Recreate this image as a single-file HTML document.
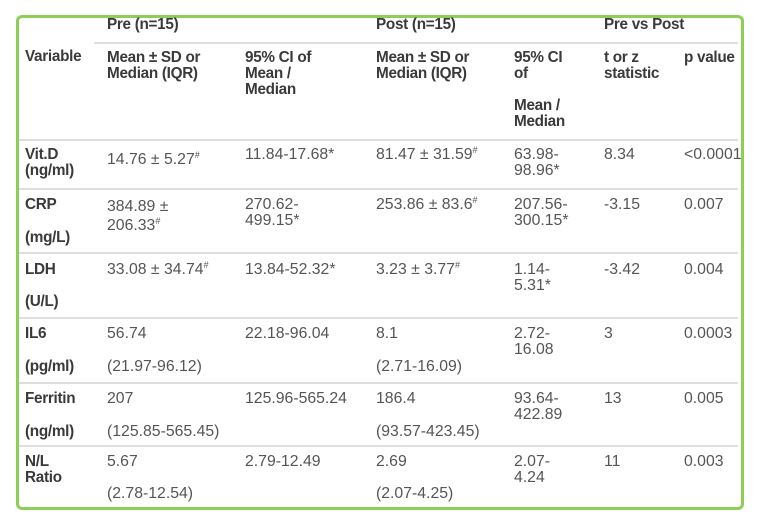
<!DOCTYPE html>
<html><head><meta charset="utf-8"><style>
html,body{margin:0;padding:0;background:#fff;width:759px;height:525px;overflow:hidden;position:relative;font-family:"Liberation Sans",sans-serif;}
.box{position:absolute;left:16px;top:15px;width:722px;height:489px;border:3px solid #8dcf55;border-radius:6px;}
.hl{position:absolute;height:2px;background:#dedede;left:19px;width:719px;}
.t{position:absolute;font-size:15.8px;line-height:16px;color:#555;white-space:nowrap;}
.h{color:#3a3a3a;font-weight:bold;font-size:15.3px;letter-spacing:-0.3px;}
sup{font-size:9px;line-height:0;vertical-align:6px;}
</style></head><body>
<div class="box"></div>
<div class="hl" style="top:42px;left:94px;width:644px"></div>
<div class="hl" style="top:139px"></div>
<div class="hl" style="top:188px"></div>
<div class="hl" style="top:252px"></div>
<div class="hl" style="top:317px"></div>
<div class="hl" style="top:382px"></div>
<div class="hl" style="top:445px"></div>

<div class="t h" style="left:107px;top:17px">Pre (n=15)</div>
<div class="t h" style="left:376px;top:17px">Post (n=15)</div>
<div class="t h" style="left:604px;top:17px">Pre vs Post</div>
<div class="t h" style="left:25px;top:49px">Variable</div>
<div class="t h" style="left:107px;top:50px">Mean ± SD or<br>Median (IQR)</div>
<div class="t h" style="left:245px;top:50px">95% CI of<br>Mean /<br>Median</div>
<div class="t h" style="left:376px;top:50px">Mean ± SD or<br>Median (IQR)</div>
<div class="t h" style="left:514px;top:50px">95% CI<br>of</div>
<div class="t h" style="left:514px;top:98px">Mean /<br>Median</div>
<div class="t h" style="left:604px;top:50px">t or z<br>statistic</div>
<div class="t h" style="left:684px;top:50px">p value</div>

<div class="t h" style="left:25px;top:147px">Vit.D<br>(ng/ml)</div>
<div class="t" style="left:107px;top:152px">14.76 ± 5.27<sup>#</sup></div>
<div class="t" style="left:245px;top:147px">11.84-17.68*</div>
<div class="t" style="left:376px;top:147px">81.47 ± 31.59<sup>#</sup></div>
<div class="t" style="left:514px;top:147px">63.98-<br>98.96*</div>
<div class="t" style="left:604px;top:147px">8.34</div>
<div class="t" style="left:684px;top:147px">&lt;0.0001</div>

<div class="t h" style="left:25px;top:197px">CRP</div>
<div class="t h" style="left:25px;top:230px">(mg/L)</div>
<div class="t" style="left:107px;top:197px;line-height:19px">384.89 ±<br>206.33<sup>#</sup></div>
<div class="t" style="left:245px;top:197px">270.62-<br>499.15*</div>
<div class="t" style="left:376px;top:197px">253.86 ± 83.6<sup>#</sup></div>
<div class="t" style="left:514px;top:197px">207.56-<br>300.15*</div>
<div class="t" style="left:604px;top:197px">-3.15</div>
<div class="t" style="left:684px;top:197px">0.007</div>

<div class="t h" style="left:25px;top:262px">LDH</div>
<div class="t h" style="left:25px;top:294px">(U/L)</div>
<div class="t" style="left:107px;top:262px">33.08 ± 34.74<sup>#</sup></div>
<div class="t" style="left:245px;top:262px">13.84-52.32*</div>
<div class="t" style="left:376px;top:262px">3.23 ± 3.77<sup>#</sup></div>
<div class="t" style="left:514px;top:262px">1.14-<br>5.31*</div>
<div class="t" style="left:604px;top:262px">-3.42</div>
<div class="t" style="left:684px;top:262px">0.004</div>

<div class="t h" style="left:25px;top:326px">IL6</div>
<div class="t h" style="left:25px;top:359px">(pg/ml)</div>
<div class="t" style="left:107px;top:326px">56.74</div>
<div class="t" style="left:107px;top:359px">(21.97-96.12)</div>
<div class="t" style="left:245px;top:326px">22.18-96.04</div>
<div class="t" style="left:376px;top:326px">8.1</div>
<div class="t" style="left:376px;top:359px">(2.71-16.09)</div>
<div class="t" style="left:514px;top:326px">2.72-<br>16.08</div>
<div class="t" style="left:604px;top:326px">3</div>
<div class="t" style="left:684px;top:326px">0.0003</div>

<div class="t h" style="left:25px;top:391px">Ferritin</div>
<div class="t h" style="left:25px;top:424px">(ng/ml)</div>
<div class="t" style="left:107px;top:391px">207</div>
<div class="t" style="left:107px;top:424px">(125.85-565.45)</div>
<div class="t" style="left:245px;top:391px">125.96-565.24</div>
<div class="t" style="left:376px;top:391px">186.4</div>
<div class="t" style="left:376px;top:424px">(93.57-423.45)</div>
<div class="t" style="left:514px;top:391px">93.64-<br>422.89</div>
<div class="t" style="left:604px;top:391px">13</div>
<div class="t" style="left:684px;top:391px">0.005</div>

<div class="t h" style="left:25px;top:454px">N/L<br>Ratio</div>
<div class="t" style="left:107px;top:454px">5.67</div>
<div class="t" style="left:107px;top:486px">(2.78-12.54)</div>
<div class="t" style="left:245px;top:454px">2.79-12.49</div>
<div class="t" style="left:376px;top:454px">2.69</div>
<div class="t" style="left:376px;top:486px">(2.07-4.25)</div>
<div class="t" style="left:514px;top:454px">2.07-<br>4.24</div>
<div class="t" style="left:604px;top:454px">11</div>
<div class="t" style="left:684px;top:454px">0.003</div>
</body></html>
